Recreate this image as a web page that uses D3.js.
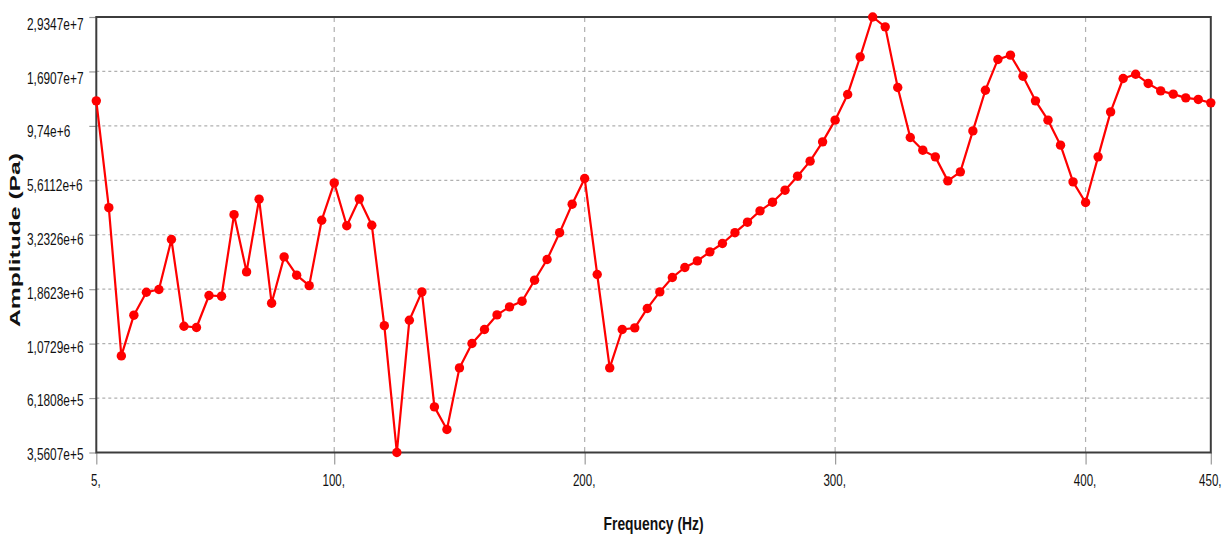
<!DOCTYPE html>
<html>
<head>
<meta charset="utf-8">
<script src="https://cdn.jsdelivr.net/npm/d3@7"></script>
<style>
  body { margin: 0; background: #fff; }
  svg { display: block; }
</style>
</head>
<body>
<svg id="chart" width="1231" height="537"></svg>
<script>
// Frequency response: pressure amplitude per 5 Hz step
const frequencies = [
  5, 10, 15, 20, 25, 30, 35, 40, 45, 50, 55, 60, 65, 70, 75, 80, 85, 90, 95, 100,
  105, 110, 115, 120, 125, 130, 135, 140, 145, 150, 155, 160, 165, 170, 175, 180, 185, 190, 195, 200,
  205, 210, 215, 220, 225, 230, 235, 240, 245, 250, 255, 260, 265, 270, 275, 280, 285, 290, 295, 300,
  305, 310, 315, 320, 325, 330, 335, 340, 345, 350, 355, 360, 365, 370, 375, 380, 385, 390, 395, 400,
  405, 410, 415, 420, 425, 430, 435, 440, 445, 450
];
const amplitudes = [
  1.255e7, 4.252e6, 9.475e5, 1.431e6, 1.806e6, 1.857e6, 3.081e6, 1.280e6, 1.263e6, 1.747e6,
  1.735e6, 3.961e6, 2.219e6, 4.635e6, 1.616e6, 2.583e6, 2.146e6, 1.930e6, 3.746e6, 5.467e6,
  3.543e6, 4.640e6, 3.561e6, 1.287e6, 3.5607e5, 1.360e6, 1.812e6, 5.651e5, 4.495e5, 8.390e5,
  1.074e6, 1.238e6, 1.435e6, 1.557e6, 1.649e6, 2.040e6, 2.516e6, 3.301e6, 4.406e6, 5.716e6,
  2.161e6, 8.390e5, 1.238e6, 1.258e6, 1.532e6, 1.812e6, 2.097e6, 2.320e6, 2.480e6, 2.718e6,
  2.959e6, 3.301e6, 3.671e6, 4.117e6, 4.496e6, 5.077e6, 5.851e6, 6.812e6, 8.283e6, 1.032e7,
  1.339e7, 1.960e7, 2.9347e7, 2.656e7, 1.437e7, 8.661e6, 7.614e6, 7.115e6, 5.579e6, 6.112e6,
  9.258e6, 1.398e7, 1.909e7, 1.994e7, 1.611e7, 1.255e7, 1.032e7, 8.011e6, 5.523e6, 4.483e6,
  7.115e6, 1.122e7, 1.574e7, 1.644e7, 1.497e7, 1.388e7, 1.343e7, 1.294e7, 1.273e7, 1.230e7
];

const yTickValues = [3.5607e5, 6.1808e5, 1.0729e6, 1.8623e6, 3.2326e6, 5.6112e6, 9.74e6, 1.6907e7, 2.9347e7];
const yTickLabels = ["3,5607e+5", "6,1808e+5", "1,0729e+6", "1,8623e+6", "3,2326e+6", "5,6112e+6", "9,74e+6", "1,6907e+7", "2,9347e+7"];
const xTickValues = [5, 100, 200, 300, 400, 450];
const xTickLabels = ["5,", "100,", "200,", "300,", "400,", "450,"];

const plot = { left: 96.3, right: 1210.8, top: 17, bottom: 452.5 };
const svg = d3.select("#chart");
const font = "'Liberation Sans', Arial, sans-serif";

const x = d3.scaleLinear().domain([5, 450]).range([plot.left, plot.right]);
const y = d3.scaleLog()
  .domain([yTickValues[0], yTickValues[yTickValues.length - 1]])
  .range([plot.bottom, plot.top]);
// value labels sit a touch lower so the top one stays inside the frame
const yLabelPos = d3.scaleLog().domain(y.domain()).range([plot.bottom + 1, plot.top + 6]);

// narrow the glyphs of a text selection by factor k
function squeeze(sel, k) {
  sel.each(function () {
    const w = this.getComputedTextLength();
    d3.select(this).attr("textLength", w * k).attr("lengthAdjust", "spacingAndGlyphs");
  });
}

// grid
const grid = svg.append("g");
grid.selectAll("line.h").data(yTickValues.slice(1, -1)).join("line")
  .attr("class", "h")
  .attr("x1", plot.left).attr("x2", plot.right)
  .attr("y1", d => y(d)).attr("y2", d => y(d))
  .attr("stroke", "#b0b0b0").attr("stroke-width", 1.2).attr("stroke-dasharray", "3,3");
grid.selectAll("line.v").data(xTickValues.slice(1, -1)).join("line")
  .attr("class", "v")
  .attr("x1", d => x(d)).attr("x2", d => x(d))
  .attr("y1", plot.top).attr("y2", plot.bottom)
  .attr("stroke", "#b0b0b0").attr("stroke-width", 1.2).attr("stroke-dasharray", "5,5");

// y axis
const yAxis = svg.append("g")
  .attr("transform", `translate(${plot.left},0)`)
  .call(d3.axisLeft(y).tickValues(yTickValues).tickFormat((d, i) => yTickLabels[i]).tickSize(7));
yAxis.select(".domain").remove();
yAxis.selectAll(".tick line").attr("stroke", "#9a9a9a").attr("stroke-width", 1.2);
yAxis.selectAll(".tick text")
  .attr("text-anchor", "start")
  .attr("x", 27 - plot.left)
  .attr("y", d => yLabelPos(d) - y(d))
  .attr("dy", "0.38em")
  .style("font-family", font).style("font-size", "16.5px").attr("fill", "#111")
  .call(squeeze, 0.72);

// x axis
const xAxis = svg.append("g")
  .attr("transform", `translate(0,${plot.bottom})`)
  .call(d3.axisBottom(x).tickValues(xTickValues).tickFormat((d, i) => xTickLabels[i]).tickSize(12));
xAxis.select(".domain").remove();
xAxis.selectAll(".tick line").attr("stroke", "#9a9a9a").attr("stroke-width", 1.2);
xAxis.selectAll(".tick text")
  .attr("x", -1)
  .attr("y", 33.5)
  .attr("dy", "0")
  .style("font-family", font).style("font-size", "16.5px").attr("fill", "#111")
  .call(squeeze, 0.7);

// frame
svg.append("rect")
  .attr("x", plot.left).attr("y", plot.top)
  .attr("width", plot.right - plot.left).attr("height", plot.bottom - plot.top)
  .attr("fill", "none").attr("stroke", "#3c3c3c").attr("stroke-width", 2);

// series
const pts = frequencies.map((f, i) => [f, amplitudes[i]]);
svg.append("path")
  .datum(pts)
  .attr("fill", "none").attr("stroke", "#ff0000").attr("stroke-width", 2.2)
  .attr("stroke-linejoin", "round")
  .attr("d", d3.line().x(d => x(d[0])).y(d => y(d[1])));
svg.append("g").selectAll("circle").data(pts).join("circle")
  .attr("cx", d => x(d[0])).attr("cy", d => y(d[1])).attr("r", 4.7)
  .attr("fill", "#ff0000");

// axis titles
svg.append("text")
  .attr("x", (plot.left + plot.right) / 2).attr("y", 530)
  .attr("text-anchor", "middle")
  .style("font-family", font).style("font-size", "19px").style("font-weight", "bold")
  .attr("fill", "#111")
  .attr("textLength", 100).attr("lengthAdjust", "spacingAndGlyphs")
  .text("Frequency (Hz)");
svg.append("text")
  .attr("transform", "translate(20,240) rotate(-90)")
  .attr("text-anchor", "middle")
  .style("font-family", font).style("font-size", "14px").style("font-weight", "bold")
  .attr("fill", "#111")
  .attr("textLength", 174).attr("lengthAdjust", "spacingAndGlyphs")
  .text("Amplitude (Pa)");
</script>
</body>
</html>
